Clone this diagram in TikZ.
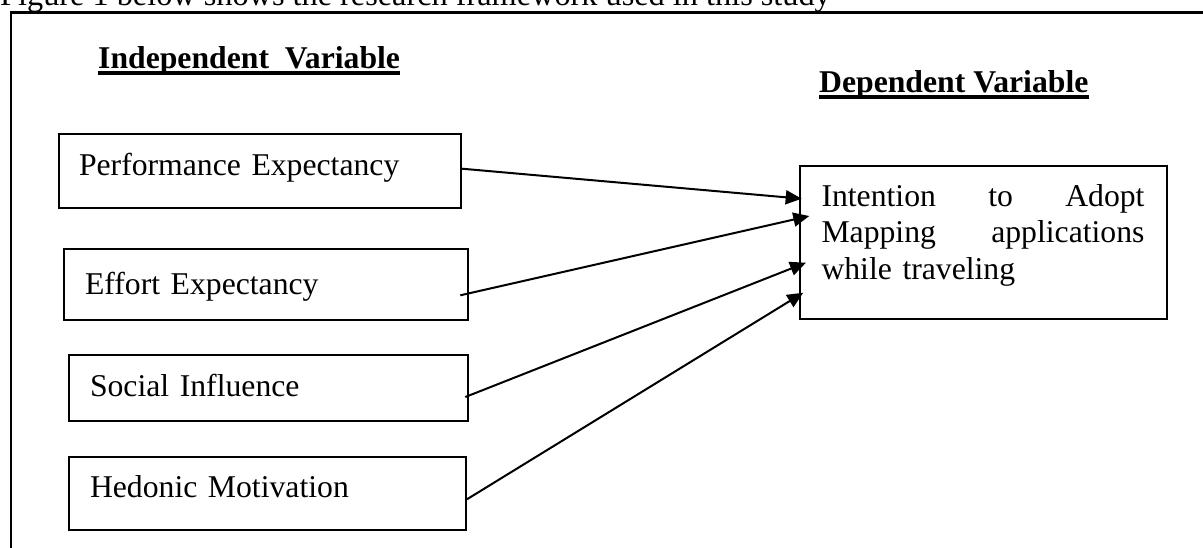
\documentclass[tikz,border=0pt]{standalone}
\usepackage{fontspec}
\setmainfont{Liberation Serif}
\usetikzlibrary{arrows.meta,calc}
\begin{document}
\begin{tikzpicture}[x=1pt,y=-1pt,
  every node/.style={font=\fontsize{31.7}{36.6}\selectfont},
  box/.style={draw, line width=2pt, inner ysep=0pt, inner xsep=21pt, anchor=north west, align=left},
  head/.style={font=\fontsize{31.7}{36.6}\selectfont\bfseries, inner sep=0pt, anchor=base west},
  link/.style={line width=2pt, -{Triangle[length=16pt,width=14pt]}},
  uline/.style={line width=3.5pt},
  frame/.style={line width=2.8pt}]
\useasboundingbox (0,0) rectangle (1203,547);
% caption (clipped at the top)
\node[anchor=base west, inner sep=0pt, font=\fontsize{32.3}{36}\selectfont] (cap) at (0,5.7)
  {Figure 1 below shows the research framework used in this study};
% outer frame
\draw[frame] (1215,12.3) -- (11,12.3) -- (11,560);
% headings
\node[head] (ind) at (98,68) {Independent\ \ Variable};
\draw[uline] ($(ind.base west)+(0,5)$) -- ($(ind.base east)+(0,5)$);
\node[head] (dep) at (819,92.5) {Dependent Variable};
\draw[uline] ($(dep.base west)+(0,4.5)$) -- ($(dep.base east)+(0,4.5)$);
% independent variable boxes
\node[box, inner xsep=20pt, text width=362pt, text height=41pt, text depth=33pt] (pe) at (58,133) {Performance Expectancy};
\node[box, text width=362pt, text height=45pt, text depth=26pt] (ee) at (63,248) {Effort Expectancy};
\node[box, text width=357pt, text height=41pt, text depth=25pt] (si) at (68,354) {Social Influence};
\node[box, text width=355pt, text height=40.5pt, text depth=33pt] (hm) at (68,455.5) {Hedonic Motivation};
% dependent variable box
\node[box, inner xsep=21.5pt, text width=324pt, text height=40pt, text depth=113pt] (tgt) at (799,165)
  {\makebox[323pt][l]{Intention\hfill to\hfill Adopt}\\\makebox[323pt][l]{Mapping\hfill applications}\\while traveling};
% connectors
\draw[link] ($(pe.east)+(0,-2.3)$) -- ($(tgt.west)+(2.7,-43.8)$);
\draw[link] ($(ee.east)+(-8.7,10.8)$) -- ($(tgt.west)+(10.3,-26.5)$);
\draw[link] ($(si.east)+(-3.7,9)$) -- ($(tgt.west)+(7,20.2)$);
\draw[link] ($(hm.east)+(0,6)$) -- ($(tgt.west)+(4.3,50.2)$);
\end{tikzpicture}
\end{document}
